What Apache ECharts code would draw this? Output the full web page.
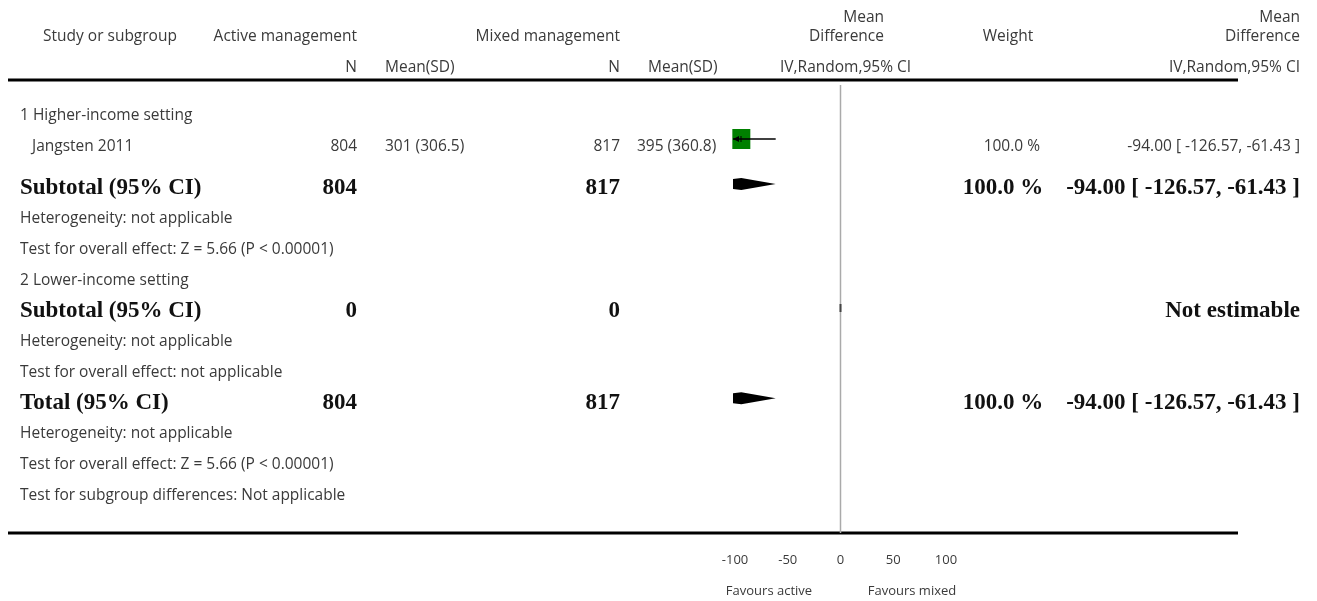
<!DOCTYPE html>
<html><head><meta charset="utf-8">
<script src="https://cdn.jsdelivr.net/npm/echarts@6/dist/echarts.min.js"></script>
<style>html,body{margin:0;padding:0;background:#fff}#c{width:1317px;height:601px}</style>
</head><body><div id="c"></div>
<script>
// ---- data ----
const studyNames = ['Jangsten 2011'];
const activeN = [804];
const activeMeanSD = ['301 (306.5)'];
const mixedN = [817];
const mixedMeanSD = ['395 (360.8)'];
const studyMD = [-94.00];
const studyLo = [-126.57];
const studyHi = [-61.43];
const studyWeight = ['100.0 %'];
const studyCI = ['-94.00 [ -126.57, -61.43 ]'];

const subtotalMD = [-94.00, null];
const subtotalLo = [-126.57, null];
const subtotalHi = [-61.43, null];
const subtotalActiveN = ['804', '0'];
const subtotalMixedN = ['817', '0'];
const subtotalWeight = ['100.0 %', ''];
const subtotalCI = ['-94.00 [ -126.57, -61.43 ]', 'Not estimable'];

const totalMD = -94.00, totalLo = -126.57, totalHi = -61.43;
const totalActiveN = '804', totalMixedN = '817';
const totalWeight = '100.0 %', totalCI = '-94.00 [ -126.57, -61.43 ]';

const tickValues = [-100, -50, 0, 50, 100];
const axisMin = -100, axisMax = 100, axisInterval = 50;

const rowTexts = [
  '1 Higher-income setting', 'Jangsten 2011', 'Subtotal (95% CI)',
  'Heterogeneity: not applicable', 'Test for overall effect: Z = 5.66 (P < 0.00001)',
  '2 Lower-income setting', 'Subtotal (95% CI)', 'Heterogeneity: not applicable',
  'Test for overall effect: not applicable', 'Total (95% CI)',
  'Heterogeneity: not applicable', 'Test for overall effect: Z = 5.66 (P < 0.00001)',
  'Test for subgroup differences: Not applicable'
];
const boldRows = [2, 6, 9];

// ---- layout ----
function rowY(i) { return i < 2 ? 115 + 31 * i : 187 + 30.75 * (i - 2); }
const SANS = '"Open Sans", Lato, sans-serif';
const SERIF = '"Liberation Serif", "DejaVu Serif", serif';
const TXT = '#3a3a3a';
const BTXT = '#111';

const graphics = [];
function txt(x, y, s, align, opts) {
  opts = opts || {};
  graphics.push({
    type: 'text', x: x, y: y, silent: true,
    style: {
      text: s, x: 0, y: 0, align: align || 'left', verticalAlign: 'middle',
      fill: opts.bold ? BTXT : TXT,
      font: opts.bold ? ('bold 23px ' + SERIF) : ((opts.size || 15.5) + 'px ' + SANS)
    }
  });
}
// header
txt(43, 37, 'Study or subgroup');
txt(357, 37, 'Active management', 'right');
txt(620, 37, 'Mixed management', 'right');
txt(884, 18, 'Mean', 'right');
txt(884, 37, 'Difference', 'right');
txt(1008, 37, 'Weight', 'center');
txt(1300, 18, 'Mean', 'right');
txt(1300, 37, 'Difference', 'right');
txt(357, 68, 'N', 'right');
txt(385, 68, 'Mean(SD)');
txt(620, 68, 'N', 'right');
txt(648, 68, 'Mean(SD)');
txt(780, 68, 'IV,Random,95% CI');
txt(1300, 68, 'IV,Random,95% CI', 'right');
// rules
graphics.push({ type: 'line', silent: true, shape: { x1: 8, y1: 80, x2: 1238, y2: 80 }, style: { stroke: '#000', lineWidth: 3 } });
graphics.push({ type: 'line', silent: true, shape: { x1: 8, y1: 533, x2: 1238, y2: 533 }, style: { stroke: '#000', lineWidth: 3 } });

// rows
rowTexts.forEach((s, i) => {
  const bold = boldRows.indexOf(i) >= 0;
  txt(i === 1 ? 32 : 20, rowY(i) + 1, s, 'left', { bold: bold });
});
// study row
studyNames.forEach((n, k) => {
  const y = rowY(1) + 1;
  txt(357, y, String(activeN[k]), 'right');
  txt(385, y, activeMeanSD[k]);
  txt(620, y, String(mixedN[k]), 'right');
  txt(637, y, mixedMeanSD[k]);
  txt(1040, y, studyWeight[k], 'right');
  txt(1300, y, studyCI[k], 'right');
});
// subtotals
[2, 6].forEach((r, k) => {
  const y = rowY(r) + 1;
  txt(357, y, subtotalActiveN[k], 'right', { bold: true });
  txt(620, y, subtotalMixedN[k], 'right', { bold: true });
  txt(1300, y, (subtotalWeight[k] ? subtotalWeight[k] + '    ' : '') + subtotalCI[k], 'right', { bold: true });
});
// total
(function () {
  const y = rowY(9) + 1;
  txt(357, y, totalActiveN, 'right', { bold: true });
  txt(620, y, totalMixedN, 'right', { bold: true });
  txt(1300, y, totalWeight + '    ' + totalCI, 'right', { bold: true });
})();
// favours
txt(769, 591, 'Favours active', 'center', { size: 13 });
txt(912, 591, 'Favours mixed', 'center', { size: 13 });

// ---- series data ----
const studyData = studyNames.map((n, k) => [studyMD[k], rowY(1) - 7, studyLo[k], studyHi[k]]);
const diamondData = [];
subtotalMD.forEach((m, k) => {
  const r = k === 0 ? 2 : 6;
  if (m !== null) diamondData.push([m, rowY(r) - 3, subtotalLo[k], subtotalHi[k]]);
});
diamondData.push([totalMD, rowY(9) - 4, totalLo, totalHi]);
const emptyData = subtotalMD.map((m, k) => m === null ? [0, rowY(6) - 2] : null).filter(Boolean);

const chart = echarts.init(document.getElementById('c'), null, { renderer: 'canvas' });
chart.setOption({
  animation: false,
  backgroundColor: '#fff',
  grid: { left: 735, right: 371, top: 0, bottom: 68, containLabel: false },
  xAxis: {
    type: 'value', min: axisMin, max: axisMax, interval: axisInterval,
    axisLine: { show: false },
    axisTick: { show: true, inside: true, length: 6, lineStyle: { color: '#000', width: 2 } },
    axisLabel: { margin: 21, fontSize: 13, color: TXT, fontFamily: SANS,
      formatter: v => tickValues.indexOf(v) >= 0 ? String(v) : '' },
    splitLine: { show: false }
  },
  yAxis: { type: 'value', min: 0, max: 533, inverse: true, show: false },
  graphic: graphics,
  series: [
    { // zero line
      type: 'custom', silent: true, clip: false, z: 1,
      data: [[0]],
      renderItem: (params, api) => {
        const p1 = api.coord([0, 85]), p2 = api.coord([0, 533]);
        return { type: 'line', shape: { x1: p1[0], y1: p1[1], x2: p2[0], y2: p2[1] }, style: { stroke: '#aaa', lineWidth: 1.5 } };
      }
    },
    { // studies
      type: 'custom', silent: true, clip: false, z: 3,
      data: studyData,
      renderItem: (params, api) => {
        const md = api.value(0), y = api.value(1), lo = api.value(2), hi = api.value(3);
        const loC = Math.max(lo, axisMin), hiC = Math.min(hi, axisMax);
        const pl = api.coord([loC, y]), ph = api.coord([hiC, y]), pm = api.coord([md, y]);
        const xl = pl[0] - (lo < axisMin ? 2 : 0);
        const children = [
          { type: 'rect', shape: { x: pm[0] - 9, y: pm[1] - 10, width: 18, height: 20 }, style: { fill: '#008000' } },
          { type: 'line', shape: { x1: xl, y1: pl[1], x2: ph[0], y2: ph[1] }, style: { stroke: '#000', lineWidth: 1.5 } }
        ];
        if (lo < axisMin) {
          children.push({ type: 'polygon', shape: { points: [[xl, pl[1]], [xl + 6, pl[1] - 3], [xl + 6, pl[1] + 3]] }, style: { fill: '#000' } });
          children.push({ type: 'line', shape: { x1: xl + 8, y1: pl[1] - 3, x2: xl + 8, y2: pl[1] + 3 }, style: { stroke: '#000', lineWidth: 1 } });
        }
        return { type: 'group', children: children };
      }
    },
    { // diamonds
      type: 'custom', silent: true, clip: false, z: 3,
      data: diamondData,
      renderItem: (params, api) => {
        const md = api.value(0), y = api.value(1), lo = api.value(2), hi = api.value(3);
        const h = 6;
        const pm = api.coord([md, y]), ph = api.coord([Math.min(hi, axisMax), y]);
        let pts;
        if (lo < axisMin) {
          const t = (axisMin - lo) / (md - lo);
          const px = api.coord([axisMin, y])[0] - 2;
          pts = [[px, y - h * t], [pm[0], y - h], [ph[0], y], [pm[0], y + h], [px, y + h * t]];
        } else {
          const pl = api.coord([lo, y]);
          pts = [[pl[0], y], [pm[0], y - h], [ph[0], y], [pm[0], y + h]];
        }
        return { type: 'polygon', shape: { points: pts }, style: { fill: '#000' } };
      }
    },
    { // not estimable marker
      type: 'custom', silent: true, clip: false, z: 3,
      data: emptyData,
      renderItem: (params, api) => {
        const p = api.coord([api.value(0), api.value(1)]);
        return { type: 'line', shape: { x1: p[0], y1: p[1] - 4, x2: p[0], y2: p[1] + 4 }, style: { stroke: '#444', lineWidth: 2 } };
      }
    }
  ]
});
</script>
</body></html>
